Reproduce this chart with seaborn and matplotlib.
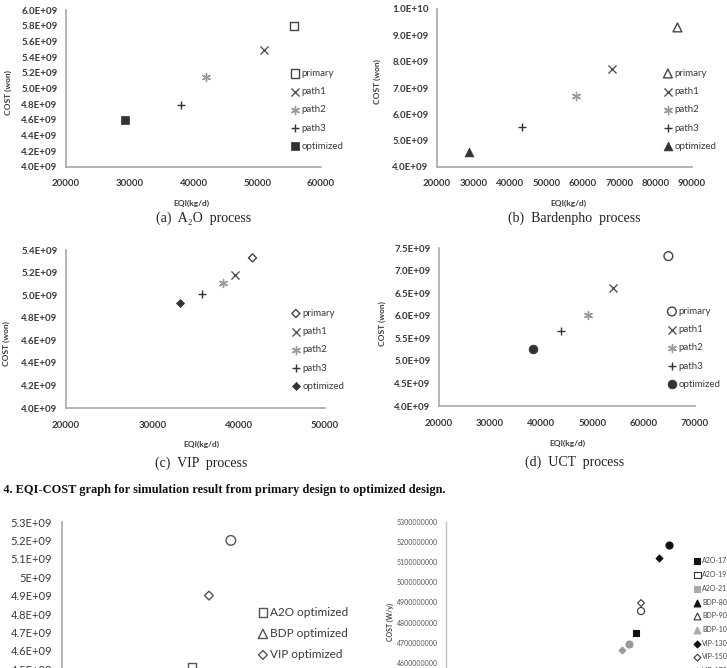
import numpy as np
import pandas as pd
import matplotlib
matplotlib.use("Agg")
import matplotlib.pyplot as plt
import seaborn as sns
from matplotlib.ticker import FuncFormatter

# ---------------- data ----------------
series = ["primary", "path1", "path2", "path3", "optimized"]

a2o_eqi = [55700, 51000, 42000, 38000, 29200]
a2o_cost = [5.80e9, 5.49e9, 5.15e9, 4.79e9, 4.60e9]

bdp_eqi = [86000, 68000, 58100, 43400, 28800]
bdp_cost = [9.30e9, 7.72e9, 6.70e9, 5.51e9, 4.56e9]

vip_eqi = [41600, 39600, 38150, 35700, 33200]
vip_cost = [5.33e9, 5.18e9, 5.11e9, 5.01e9, 4.93e9]

uct_eqi = [64800, 54000, 49100, 43800, 38350]
uct_cost = [7.32e9, 6.61e9, 6.02e9, 5.67e9, 5.27e9]

opt_names = ["A2O optimized", "BDP optimized", "VIP optimized", "UCT optimized"]
opt_eqi = [34550, 30000, 36450, 38900]
opt_cost = [4.51e9, 4.40e9, 4.90e9, 5.20e9]

case_names = ["A2O-1750", "A2O-1950", "A2O-2150", "BDP-8000", "BDP-9000",
              "BDP-10000", "VIP-1300", "VIP-1500", "VIP-1700",
              "UCT-1", "UCT-2", "UCT-3"]
case_eqi = [43360, 40000, 38000, 36000, 35000, 34000, 46190, 43980, 41640,
            47420, 43980, 42500]
case_cost = [4.748e9, 4.55e9, 4.50e9, 4.45e9, 4.42e9, 4.40e9, 5.121e9, 4.897e9,
             4.663e9, 5.186e9, 4.857e9, 4.693e9]

process_captions = ["(a)  A\u2082O  process", "(b)  Bardenpho  process",
                    "(c)  VIP  process", "(d)  UCT  process"]
fig_caption = "Fig. 4. EQI-COST graph for simulation result from primary design to optimized design."

# ---------------- setup ----------------
W, H = 727, 668
sns.set_style("white")
plt.rcParams["font.family"] = ["Lato", "DejaVu Sans"]
fig = plt.figure(figsize=(W / 100, H / 100), dpi=100)
fig.patch.set_facecolor("white")

TXT = "#3a3a3a"
SPINE = "#a8a8a8"


def add_ax(l, t, r, b):
    return fig.add_axes([l / W, 1 - b / H, (r - l) / W, (b - t) / H])


def fx(x):
    return x / W


def fy(y):
    return 1 - y / H


def style_for(name, shape):
    if name == "primary":
        return dict(marker=shape, facecolor="none", edgecolor="#444444", linewidth=1.0)
    if name == "path1":
        return dict(marker="x", color="#555555", linewidth=1.0)
    if name == "path2":
        return dict(marker=(6, 2, 0), color="#9a9a9a", linewidth=1.0)
    if name == "path3":
        return dict(marker="+", color="#333333", linewidth=1.0)
    return dict(marker=shape, color="#333333", edgecolor="#333333", linewidth=0.5)


size_for = {"s": 34, "^": 40, "D": 17, "o": 40}

panels = [
    dict(eqi=a2o_eqi, cost=a2o_cost, box=(66, 10, 321, 167), xlim=(20000, 60000),
         xstep=10000, ylim=(4e9, 6e9), ystep=0.2e9, shape="s",
         leg=(290, 110), xl=(191, 203), yl=(8, 93), cap=(204, 218)),
    dict(eqi=bdp_eqi, cost=bdp_cost, box=(437, 9, 692, 167), xlim=(20000, 90000),
         xstep=10000, ylim=(4e9, 1e10), ystep=1e9, shape="^",
         leg=(663, 110), xl=(568, 203), yl=(377, 82), cap=(574, 218)),
    dict(eqi=vip_eqi, cost=vip_cost, box=(66, 250, 325, 408), xlim=(20000, 50000),
         xstep=10000, ylim=(4e9, 5.4e9), ystep=0.2e9, shape="D",
         leg=(291, 350), xl=(201, 444), yl=(6, 344), cap=(201, 463)),
    dict(eqi=uct_eqi, cost=uct_cost, box=(439, 248, 695, 406), xlim=(20000, 70000),
         xstep=10000, ylim=(4e9, 7.5e9), ystep=0.5e9, shape="o",
         leg=(667, 348), xl=(567, 443), yl=(382, 324), cap=(575, 462)),
]

for i, p in enumerate(panels):
    ax = add_ax(*p["box"])
    df = pd.DataFrame({"series": series, "EQI": p["eqi"], "COST": p["cost"]})
    for name in series:
        sub = df[df["series"] == name]
        st = style_for(name, p["shape"])
        s = 34 if st["marker"] in ("x", "+") or isinstance(st["marker"], tuple) else size_for[p["shape"]]
        sns.scatterplot(data=sub, x="EQI", y="COST", s=s, ax=ax, label=name, **st)
    ax.set_xlim(*p["xlim"])
    ax.set_ylim(*p["ylim"])
    ax.set_xticks(np.arange(p["xlim"][0], p["xlim"][1] + 1, p["xstep"]))
    ax.set_yticks(np.arange(p["ylim"][0], p["ylim"][1] + 1, p["ystep"]))
    ax.yaxis.set_major_formatter(FuncFormatter(lambda v, pos: f"{v:.1E}"))
    ax.xaxis.set_major_formatter(FuncFormatter(lambda v, pos: f"{int(round(v))}"))
    for sp in ["top", "right"]:
        ax.spines[sp].set_visible(False)
    for sp in ["left", "bottom"]:
        ax.spines[sp].set_color(SPINE)
        ax.spines[sp].set_linewidth(1.2)
    ax.tick_params(axis="y", length=0, labelsize=7, labelcolor=TXT, pad=6)
    ax.tick_params(axis="x", length=0, labelsize=7, labelcolor=TXT, pad=9)
    for lab in ax.get_xticklabels() + ax.get_yticklabels():
        lab.set_fontweight("bold")
    ax.set_xlabel("EQI(kg/d)", fontsize=6, fontweight="bold", color=TXT)
    ax.set_ylabel("COST (won)", fontsize=6, fontweight="bold", color=TXT)
    ax.xaxis.set_label_coords(fx(p["xl"][0]), fy(p["xl"][1]), transform=fig.transFigure)
    ax.xaxis.label.set_verticalalignment("center")
    ax.yaxis.set_label_coords(fx(p["yl"][0]), fy(p["yl"][1]), transform=fig.transFigure)
    ax.yaxis.label.set_verticalalignment("center")
    leg = ax.legend(loc="center left", bbox_to_anchor=(fx(p["leg"][0]), fy(p["leg"][1])),
                    bbox_transform=fig.transFigure, frameon=False, fontsize=7,
                    handlelength=1.0, handletextpad=0.2, labelspacing=0.95,
                    borderpad=0, borderaxespad=0)
    for t in leg.get_texts():
        t.set_color(TXT)
    fig.text(fx(p["cap"][0]), fy(p["cap"][1]), process_captions[i], ha="center",
             va="center", fontsize=10, color="#222222",
             family=["Liberation Serif", "DejaVu Serif"])

# figure caption (partially cut at left edge as in the page scan)
fig.text(fx(446), fy(490), fig_caption, ha="right", va="center", fontsize=8.9,
         fontweight="bold", color="#111111", family=["Liberation Serif", "DejaVu Serif"])

# ---------------- bottom-left: optimized designs ----------------
axl = add_ax(62, 522, 330, 706)
opt_shapes = ["s", "^", "D", "o"]
opt_sizes = [40, 44, 20, 48]
for name, xv, yv, mk, sz in zip(opt_names, opt_eqi, opt_cost, opt_shapes, opt_sizes):
    sns.scatterplot(x=[xv], y=[yv], marker=mk, s=sz, facecolor="none",
                    edgecolor="#555555", linewidth=1.0, ax=axl, label=name)
axl.set_xlim(20000, 50000)
axl.set_ylim(4.3e9, 5.3e9)
axl.set_yticks(np.arange(4.5e9, 5.3e9 + 1, 0.1e9))
axl.yaxis.set_major_formatter(FuncFormatter(lambda v, pos: f"{v:.2G}"))
axl.set_xticks([])
for sp in ["top", "right", "bottom"]:
    axl.spines[sp].set_visible(False)
axl.spines["left"].set_color(SPINE)
axl.spines["left"].set_linewidth(1.2)
axl.tick_params(axis="y", length=0, labelsize=8, labelcolor=TXT, pad=7)
axl.set_xlabel("")
axl.set_ylabel("")
leg = axl.legend(loc="center left", bbox_to_anchor=(fx(257), fy(644)),
                 bbox_transform=fig.transFigure, frameon=False, fontsize=8.5,
                 handlelength=1.0, handletextpad=0.1, labelspacing=0.85,
                 borderpad=0, borderaxespad=0)
for t in leg.get_texts():
    t.set_color(TXT)

# ---------------- bottom-right: design cases ----------------
axr = add_ax(446, 522, 690, 723)
case_style = {
    "A2O-1750": ("s", "#111111", "#111111"), "A2O-1950": ("s", "none", "#333333"),
    "A2O-2150": ("s", "#aaaaaa", "#aaaaaa"), "BDP-8000": ("^", "#111111", "#111111"),
    "BDP-9000": ("^", "none", "#333333"), "BDP-10000": ("^", "#aaaaaa", "#aaaaaa"),
    "VIP-1300": ("D", "#111111", "#111111"), "VIP-1500": ("D", "none", "#333333"),
    "VIP-1700": ("D", "#9a9a9a", "#9a9a9a"), "UCT-1": ("o", "#111111", "#111111"),
    "UCT-2": ("o", "none", "#333333"), "UCT-3": ("o", "#9a9a9a", "#9a9a9a"),
}
for name, xv, yv in zip(case_names, case_eqi, case_cost):
    mk, fc, ec = case_style[name]
    sz = {"s": 22, "^": 24, "D": 12, "o": 26}[mk]
    sns.scatterplot(x=[xv], y=[yv], marker=mk, s=sz, facecolor=fc, edgecolor=ec,
                    linewidth=0.8, ax=axr, label=name)
axr.set_xlim(20000, 50000)
axr.set_ylim(4.3e9, 5.3e9)
axr.set_yticks(np.arange(4.6e9, 5.3e9 + 1, 0.1e9))
axr.yaxis.set_major_formatter(FuncFormatter(lambda v, pos: f"{int(round(v))}"))
axr.set_xticks([])
for sp in ["top", "right", "bottom"]:
    axr.spines[sp].set_visible(False)
axr.spines["left"].set_color("#c0c0c0")
axr.spines["left"].set_linewidth(1.0)
axr.tick_params(axis="y", length=0, labelsize=5, labelcolor="#555555", pad=6)
axr.set_xlabel("")
axr.set_ylabel("COST (W/y)", fontsize=5, fontweight="bold", color="#444444")
axr.yaxis.set_label_coords(fx(390), fy(622), transform=fig.transFigure)
axr.yaxis.label.set_verticalalignment("center")
n = len(case_names)
leg = axr.legend(loc="center left", bbox_to_anchor=(fx(694), fy(561 + (n - 1) / 2 * 13.7)),
                 bbox_transform=fig.transFigure, frameon=False, fontsize=5,
                 handlelength=1.0, handletextpad=0.2, labelspacing=0.97,
                 borderpad=0, borderaxespad=0)
for t in leg.get_texts():
    t.set_color("#444444")

fig.savefig("out.png", dpi=100, facecolor="white")
